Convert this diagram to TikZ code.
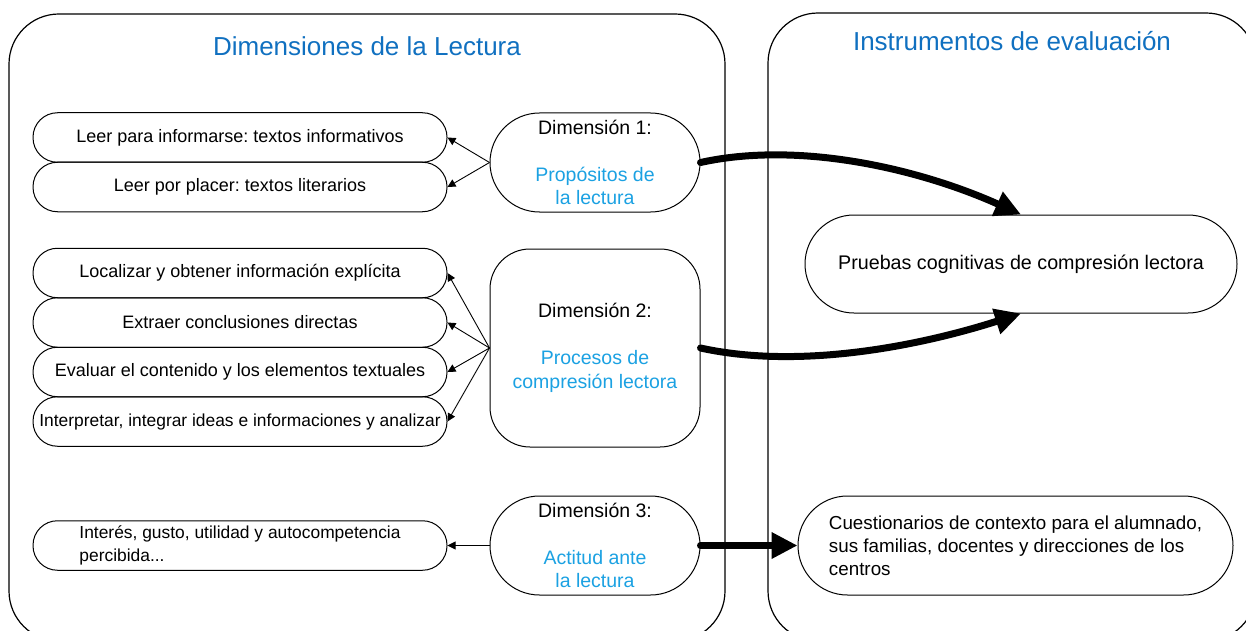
\documentclass[tikz,border=0pt]{standalone}
\usepackage{fontspec}
\setmainfont{Liberation Sans}
\usetikzlibrary{arrows.meta}
\definecolor{tblue}{RGB}{16,112,192}
\definecolor{lblue}{RGB}{27,161,226}
\tikzset{
  panel/.style={draw, line width=1.2pt, rounded corners=50pt},
  ttl/.style={font=\fontsize{26}{30}\selectfont, text=tblue, anchor=base, inner sep=0pt},
  pill/.style={draw, line width=1pt, rounded corners=24.5pt, minimum width=414pt, minimum height=49.5pt, inner sep=0pt, font=\fontsize{18}{23.5}\selectfont, align=left},
  smalltext/.style={font=\fontsize{17.4}{23.5}\selectfont},
  dimbox/.style={draw, line width=1pt, minimum width=210pt, inner sep=0pt, font=\fontsize{19.5}{23.5}\selectfont, align=center},
  sarrow/.style={line width=0.9pt, -{Triangle[length=8pt,width=8pt]}},
  barrow/.style={line width=7pt, line cap=round, -{Triangle[length=26pt,width=25pt]}}
}
\begin{document}
\frenchspacing
\begin{tikzpicture}[x=1pt, y=-1pt]
\useasboundingbox (0,0) rectangle (1246,631);
\clip (0,0) rectangle (1246,631);
% panels
\draw[panel] (9,14) rectangle (725,641);
\draw[panel] (768,13) rectangle (1256,641);
\node[ttl] (t1) at (367,56) {Dimensiones de la Lectura};
\node[ttl] (t2) at (1012,51) {Instrumentos de evaluación};
% left pills
\node[pill] (a) at (240,137.5) {Leer para informarse: textos informativos};
\node[pill] (b) at (240,187) {Leer por placer: textos literarios};
\node[pill] (c1) at (240,273) {Localizar y obtener información explícita};
\node[pill] (c2) at (240,322.5) {Extraer conclusiones directas};
\node[pill] (c3) at (240,372) {Evaluar el contenido y los elementos textuales};
\node[pill, smalltext] (c4) at (240,421.5) {Interpretar, integrar ideas e informaciones y analizar};
\node[pill, smalltext] (e) at (240,545.5) {Interés, gusto, utilidad y autocompetencia\\percibida...};
% dimension boxes
\node[dimbox, minimum height=99pt, rounded corners=49.5pt] (d1) at (595,162.5)
  {Dimensión 1:\\[23.5pt]\textcolor{lblue}{Propósitos de}\\\textcolor{lblue}{la lectura}};
\node[dimbox, minimum height=198pt, rounded corners=40pt] (d2) at (595,348)
  {Dimensión 2:\\[23.5pt]\textcolor{lblue}{Procesos de}\\\textcolor{lblue}{compresión lectora}};
\node[dimbox, minimum height=99pt, rounded corners=49.5pt] (d3) at (595,545.5)
  {Dimensión 3:\\[23.5pt]\textcolor{lblue}{Actitud ante}\\\textcolor{lblue}{la lectura}};
% right boxes
\node[pill, minimum width=432pt, minimum height=98pt, rounded corners=49pt, font=\fontsize{19.7}{23.5}\selectfont] (pr) at (1021,264)
  {Pruebas cognitivas de compresión lectora};
\node[pill, minimum width=435pt, minimum height=99pt, rounded corners=49.5pt, font=\fontsize{18.8}{23}\selectfont] (cu) at (1015.5,545.5)
  {Cuestionarios de contexto para el alumnado,\\sus familias, docentes y direcciones de los\\centros};
% thin arrows
\draw[sarrow] (d1.west) -- (a.east);
\draw[sarrow] (d1.west) -- (b.east);
\draw[sarrow] (d2.west) -- (c1.east);
\draw[sarrow] (d2.west) -- (c2.east);
\draw[sarrow] (d2.west) -- (c3.east);
\draw[sarrow] (d2.west) -- (c4.east);
\draw[sarrow] (d3.west) -- (e.east);
% thick arrows
\draw[barrow] (d1.east) .. controls +(100,-22) and +(-100,-45) .. (pr.north);
\draw[barrow] (d2.east) .. controls +(100,22) and +(-100,32) .. (pr.south);
\draw[barrow] (d3.east) -- (cu.west);
\end{tikzpicture}
\end{document}
